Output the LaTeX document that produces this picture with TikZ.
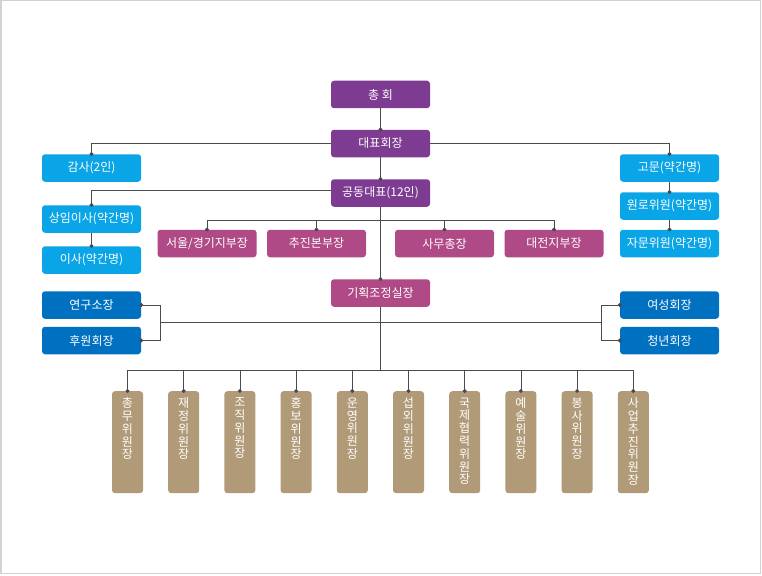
\documentclass[tikz,border=0pt]{standalone}
\usepackage{fontspec}
\setmainfont{Noto Sans CJK KR}
\usetikzlibrary{arrows.meta,positioning}
\definecolor{cpurple}{HTML}{7D3C92}
\definecolor{cmagenta}{HTML}{B04A86}
\definecolor{clblue}{HTML}{0AA5E6}
\definecolor{cdblue}{HTML}{0071C1}
\definecolor{ctan}{HTML}{B09A78}
\definecolor{linec}{HTML}{4A4A4A}
\definecolor{framec}{HTML}{D2D2D2}
\tikzset{
  x=1pt, y=-1pt,
  box/.style={rectangle, rounded corners=3pt, minimum width=99pt, minimum height=27.5pt,
    inner sep=0pt, text=white, font=\fontsize{12}{13}\selectfont},
  pbox/.style={box, fill=cpurple},
  mbox/.style={box, fill=cmagenta},
  lbbox/.style={box, fill=clblue},
  dbbox/.style={box, fill=cdblue},
  vbox/.style={rectangle, rounded corners=3pt, minimum width=31pt, minimum height=102pt,
    inner sep=0pt, fill=ctan, anchor=north},
  vtext/.style={anchor=north, yshift=-6.5pt, align=center, text=white, inner sep=0pt,
    font=\fontsize{12}{12.8}\selectfont},
  con/.style={draw=linec, line width=0.8pt},
  cd/.style={con, -{Circle[length=3.8pt]}, shorten >=-1.9pt},
}
\begin{document}
\begin{tikzpicture}
\useasboundingbox (0,0) rectangle (762,575);
\draw[framec, line width=1.5pt] (0.75,0.75) rectangle (760.5,573.5);

% top chain
\node[pbox] (chonghoe) at (380.5,94.5) {총 회};
\node[pbox] (daepyo) at (380.5,143.5) {대표회장};
\node[pbox] (gongdong) at (380.5,193) {공동대표(12인)};

% left light blue
\node[lbbox] (gamsa) at (91.5,168) {감사(2인)};
\node[lbbox] (sangim) at (91.5,219) {상임이사(약간명)};
\node[lbbox] (isa) at (91.5,260) {이사(약간명)};

% right light blue
\node[lbbox] (gomun) at (669.5,168) {고문(약간명)};
\node[lbbox] (wonro) at (669.5,206) {원로위원(약간명)};
\node[lbbox] (jamun) at (669.5,243.5) {자문위원(약간명)};

% magenta row
\node[mbox] (seoul) at (207,243.5) {서울/경기지부장};
\node[mbox] (chujin) at (316.5,243.5) {추진본부장};
\node[mbox] (samu) at (444.5,243.5) {사무총장};
\node[mbox] (daejeon) at (554,243.5) {대전지부장};
\node[mbox] (gihoek) at (380.5,293) {기획조정실장};

% dark blue
\node[dbbox] (yeongu) at (91.5,305) {연구소장};
\node[dbbox] (huwon) at (91.5,340.5) {후원회장};
\node[dbbox] (yeoseong) at (669.5,305) {여성회장};
\node[dbbox] (cheongnyeon) at (669.5,340.5) {청년회장};

% bottom committees
\foreach \i/\t in {0/{총\\무\\위\\원\\장}, 1/{재\\정\\위\\원\\장}, 2/{조\\직\\위\\원\\장},
  3/{홍\\보\\위\\원\\장}, 4/{운\\영\\위\\원\\장}, 5/{섭\\외\\위\\원\\장},
  6/{국\\제\\협\\력\\위\\원\\장}, 7/{예\\술\\위\\원\\장}, 8/{봉\\사\\위\\원\\장},
  9/{사\\업\\추\\진\\위\\원\\장}}{
  \node[vbox, label={[vtext]north:{\t}}] (c\i) at ({127.5+56.2*\i},391) {};
}

% helper coordinates
\coordinate (mbus) at (380.5,220);
\coordinate (bbus) at (380.5,370);
\coordinate (lbr) at (160,322);
\coordinate (rbr) at (601,322);

% connectors
\draw[cd] (chonghoe) -- (daepyo);
\draw[cd] (daepyo) -- (gongdong);
\draw[cd] (daepyo.west) -| (gamsa.north);
\draw[cd] (daepyo.east) -| (gomun.north);
\draw[cd] (gomun) -- (wonro);
\draw[cd] (wonro) -- (jamun);
\draw[cd] ([yshift=3pt]gongdong.west) -| (sangim.north);
\draw[cd] (sangim) -- (isa);
\draw[cd] (gongdong) -- (gihoek);
\draw[con] (gihoek) -- (bbus);
\foreach \n in {seoul,chujin,samu,daejeon}{
  \draw[cd] (mbus) -| (\n.north);
}
\draw[con] (lbr) -- (rbr);
\draw[cd] (lbr) |- (yeongu.east);
\draw[cd] (lbr) |- (huwon.east);
\draw[cd] (rbr) |- (yeoseong.west);
\draw[cd] (rbr) |- (cheongnyeon.west);
\foreach \i in {0,...,9}{
  \draw[cd] (bbus) -| (c\i.north);
}
\end{tikzpicture}
\end{document}
